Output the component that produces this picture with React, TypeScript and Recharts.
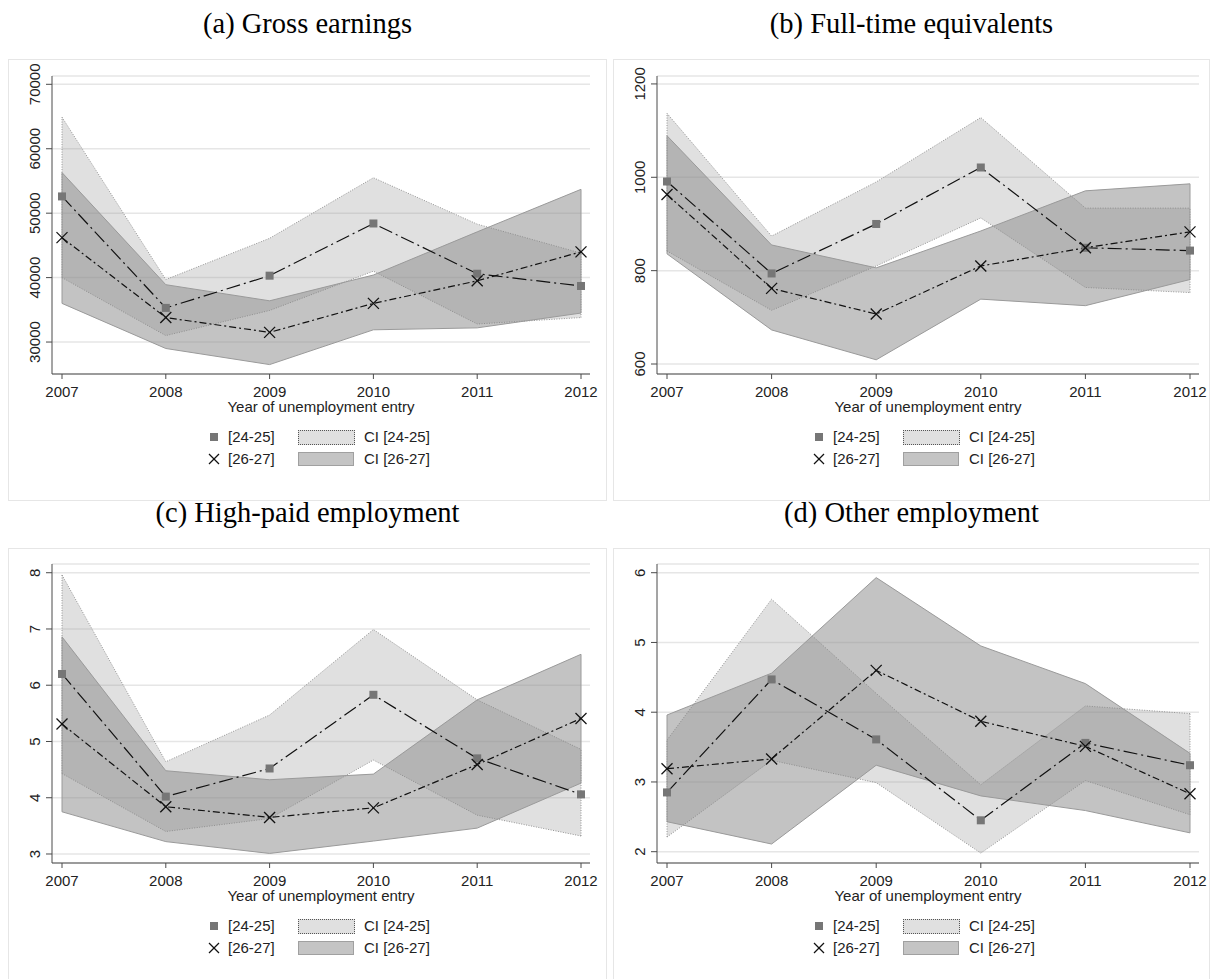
import React from "react";
import { ComposedChart, Area, Line, XAxis, YAxis, CartesianGrid, ReferenceLine } from "recharts";

const years = [2007, 2008, 2009, 2010, 2011, 2012];

// (a) Gross earnings
const grossYoung = [52600, 35300, 40300, 48400, 40600, 38700];
const grossOld = [46200, 33800, 31500, 36000, 39500, 44000];
const grossYoungLo = [40000, 31000, 34900, 41000, 32800, 33800];
const grossYoungHi = [64900, 39700, 46100, 55500, 48300, 43800];
const grossOldLo = [36000, 29000, 26500, 31900, 32200, 34500];
const grossOldHi = [56300, 38900, 36400, 40400, 47100, 53700];
const grossTicks = [30000, 40000, 50000, 60000, 70000];

// (b) Full-time equivalents
const fteYoung = [991, 794, 900, 1021, 849, 843];
const fteOld = [963, 762, 707, 810, 849, 883];
const fteYoungLo = [842, 715, 810, 913, 764, 753];
const fteYoungHi = [1137, 874, 990, 1128, 934, 934];
const fteOldLo = [836, 673, 609, 739, 725, 781];
const fteOldHi = [1089, 855, 806, 885, 971, 986];
const fteTicks = [600, 800, 1000, 1200];

// (c) High-paid employment
const highYoung = [6.2, 4.02, 4.52, 5.83, 4.7, 4.06];
const highOld = [5.31, 3.84, 3.65, 3.82, 4.59, 5.41];
const highYoungLo = [4.43, 3.4, 3.63, 4.67, 3.69, 3.32];
const highYoungHi = [7.96, 4.64, 5.47, 6.99, 5.74, 4.86];
const highOldLo = [3.75, 3.22, 3.01, 3.23, 3.46, 4.26];
const highOldHi = [6.86, 4.48, 4.32, 4.42, 5.74, 6.55];
const highTicks = [3, 4, 5, 6, 7, 8];

// (d) Other employment
const otherYoung = [2.85, 4.47, 3.61, 2.45, 3.56, 3.24];
const otherOld = [3.19, 3.33, 4.6, 3.87, 3.51, 2.83];
const otherYoungLo = [2.21, 3.31, 2.99, 1.98, 3.02, 2.53];
const otherYoungHi = [3.6, 5.62, 4.27, 2.96, 4.09, 3.98];
const otherOldLo = [2.43, 2.11, 3.24, 2.8, 2.59, 2.27];
const otherOldHi = [3.96, 4.56, 5.93, 4.95, 4.41, 3.41];
const otherTicks = [2, 3, 4, 5, 6];

const SANS = "'Liberation Sans', Arial, sans-serif";
const SERIF = "'Liberation Serif', 'Times New Roman', serif";
const AXIS = "#4a4a4a";
const TXT = { fontFamily: SANS, fontSize: 15, lineHeight: "17px", color: "#222" };

function buildRows(young, old, yLo, yHi, oLo, oHi) {
  return years.map((yr, i) => ({
    year: yr,
    young: young[i],
    old: old[i],
    ciYoung: [yLo[i], yHi[i]],
    ciOld: [oLo[i], oHi[i]],
  }));
}

const SquareDot = (props: any) => {
  const { cx, cy, index } = props;
  if (cx == null || cy == null) return null;
  return <rect key={`s${index}`} x={cx - 4} y={cy - 4} width={8} height={8} fill="#767676" />;
};

const CrossDot = (props: any) => {
  const { cx, cy, index } = props;
  if (cx == null || cy == null) return null;
  const r = 5.5;
  return (
    <g key={`x${index}`}>
      <line x1={cx - r} y1={cy - r} x2={cx + r} y2={cy + r} stroke="#111" strokeWidth={1.3} />
      <line x1={cx - r} y1={cy + r} x2={cx + r} y2={cy - r} stroke="#111" strokeWidth={1.3} />
    </g>
  );
};

const YTick = (props: any) => {
  const { x, y, payload } = props;
  const bx = x - 3.5;
  return (
    <text
      x={bx}
      y={y}
      transform={`rotate(-90, ${bx}, ${y})`}
      textAnchor="middle"
      fontSize={15}
      fontFamily={SANS}
      fill="#222"
    >
      {payload.value}
    </text>
  );
};

function edges(rows, key) {
  const first = rows[0];
  const last = rows[rows.length - 1];
  return [first, last].map((r) => [
    { x: r.year, y: r[key][0] },
    { x: r.year, y: r[key][1] },
  ]);
}

function Panel({ title, left, top, width, height, margin, domain, ticks, rows }) {
  const plotLeft = left + margin.left + 40;
  const plotRight = left + width - margin.right;
  const plotBottom = top + height - margin.bottom - 30;
  const plotMid = (plotLeft + plotRight) / 2;
  const legX = plotLeft + 162;
  const youngEdges = edges(rows, "ciYoung");
  const oldEdges = edges(rows, "ciOld");
  return (
    <>
      <div
        style={{
          position: "absolute",
          left: left,
          top: top - 50,
          width: width,
          textAlign: "center",
          fontFamily: SERIF,
          fontSize: 28.5,
          lineHeight: "30px",
          color: "#000",
        }}
      >
        {title}
      </div>
      <div
        style={{
          position: "absolute",
          left: left,
          top: top,
          width: width - 2,
          height: 440,
          border: "1px solid #e6e6e6",
        }}
      />
      <div style={{ position: "absolute", left: left, top: top }}>
        <ComposedChart width={width} height={height} data={rows} margin={margin}>
          <CartesianGrid horizontal vertical={false} stroke="#e6e6e6" strokeWidth={1.5} />
          <XAxis
            dataKey="year"
            type="number"
            domain={[2007, 2012]}
            ticks={years}
            padding={{ left: 10, right: 9 }}
            height={30}
            tickSize={5}
            tickMargin={7}
            stroke={AXIS}
            tick={{ fontSize: 15, fontFamily: SANS, fill: "#222" }}
            interval={0}
          />
          <YAxis
            type="number"
            domain={domain}
            ticks={ticks}
            allowDataOverflow
            width={40}
            tickSize={6}
            tickMargin={2}
            stroke={AXIS}
            tick={<YTick />}
            interval={0}
          />
          <Area
            type="linear"
            dataKey="ciYoung"
            fill="#999999"
            fillOpacity={0.3}
            stroke="#8a8a8a"
            strokeWidth={0.9}
            strokeDasharray="1 1.5"
            isAnimationActive={false}
          />
          {youngEdges.map((seg, i) => (
            <ReferenceLine key={`ye${i}`} segment={seg} stroke="#8a8a8a" strokeWidth={0.9} strokeDasharray="1 1.5" />
          ))}
          <Area
            type="linear"
            dataKey="ciOld"
            fill="#888888"
            fillOpacity={0.5}
            stroke="#9a9a9a"
            strokeWidth={1}
            isAnimationActive={false}
          />
          {oldEdges.map((seg, i) => (
            <ReferenceLine key={`oe${i}`} segment={seg} stroke="#9a9a9a" strokeWidth={1} />
          ))}
          <Line
            type="linear"
            dataKey="young"
            stroke="#111"
            strokeWidth={1.2}
            strokeDasharray="14 4 2 4"
            dot={SquareDot}
            activeDot={false}
            isAnimationActive={false}
          />
          <Line
            type="linear"
            dataKey="old"
            stroke="#111"
            strokeWidth={1.2}
            strokeDasharray="7 3 2 3"
            dot={CrossDot}
            activeDot={false}
            isAnimationActive={false}
          />
        </ComposedChart>
      </div>
      <div
        style={{
          ...TXT,
          position: "absolute",
          left: plotMid - 150,
          width: 300,
          top: plotBottom + 24,
          textAlign: "center",
        }}
      >
        Year of unemployment entry
      </div>
      <div style={{ position: "absolute", left: legX - 4, top: plotBottom + 59, width: 8, height: 8, background: "#767676" }} />
      <svg style={{ position: "absolute", left: legX - 6, top: plotBottom + 79 }} width={12} height={12}>
        <line x1={1} y1={1} x2={11} y2={11} stroke="#111" strokeWidth={1.3} />
        <line x1={1} y1={11} x2={11} y2={1} stroke="#111" strokeWidth={1.3} />
      </svg>
      <div style={{ ...TXT, position: "absolute", left: legX + 14, top: plotBottom + 54 }}>[24-25]</div>
      <div style={{ ...TXT, position: "absolute", left: legX + 14, top: plotBottom + 76 }}>[26-27]</div>
      <div
        style={{
          position: "absolute",
          left: legX + 84,
          top: plotBottom + 56,
          width: 55,
          height: 13,
          background: "#e0e0e0",
          border: "1px dotted #555",
        }}
      />
      <div
        style={{
          position: "absolute",
          left: legX + 84,
          top: plotBottom + 78,
          width: 54,
          height: 12,
          background: "#c4c4c4",
          border: "1.5px solid #a0a0a0",
        }}
      />
      <div style={{ ...TXT, position: "absolute", left: legX + 150, top: plotBottom + 54 }}>CI [24-25]</div>
      <div style={{ ...TXT, position: "absolute", left: legX + 150, top: plotBottom + 76 }}>CI [26-27]</div>
    </>
  );
}

export default function App() {
  return (
    <div style={{ position: "absolute", left: 0, top: 0, width: 1211, height: 979, overflow: "hidden", background: "#fff" }}>
      <Panel
        title="(a) Gross earnings"
        left={8}
        top={59}
        width={599}
        height={434}
        margin={{ top: 17, right: 17, left: 4, bottom: 89 }}
        domain={[25040, 71290]}
        ticks={grossTicks}
        rows={buildRows(grossYoung, grossOld, grossYoungLo, grossYoungHi, grossOldLo, grossOldHi)}
      />
      <Panel
        title="(b) Full-time equivalents"
        left={613}
        top={59}
        width={597}
        height={434}
        margin={{ top: 17, right: 11, left: 4, bottom: 89 }}
        domain={[578.6, 1217]}
        ticks={fteTicks}
        rows={buildRows(fteYoung, fteOld, fteYoungLo, fteYoungHi, fteOldLo, fteOldHi)}
      />
      <Panel
        title="(c) High-paid employment"
        left={8}
        top={548}
        width={599}
        height={431}
        margin={{ top: 16, right: 17, left: 4, bottom: 86 }}
        domain={[2.84, 8.155]}
        ticks={highTicks}
        rows={buildRows(highYoung, highOld, highYoungLo, highYoungHi, highOldLo, highOldHi)}
      />
      <Panel
        title="(d) Other employment"
        left={613}
        top={548}
        width={597}
        height={431}
        margin={{ top: 16, right: 11, left: 4, bottom: 86 }}
        domain={[1.838, 6.125]}
        ticks={otherTicks}
        rows={buildRows(otherYoung, otherOld, otherYoungLo, otherYoungHi, otherOldLo, otherOldHi)}
      />
    </div>
  );
}
